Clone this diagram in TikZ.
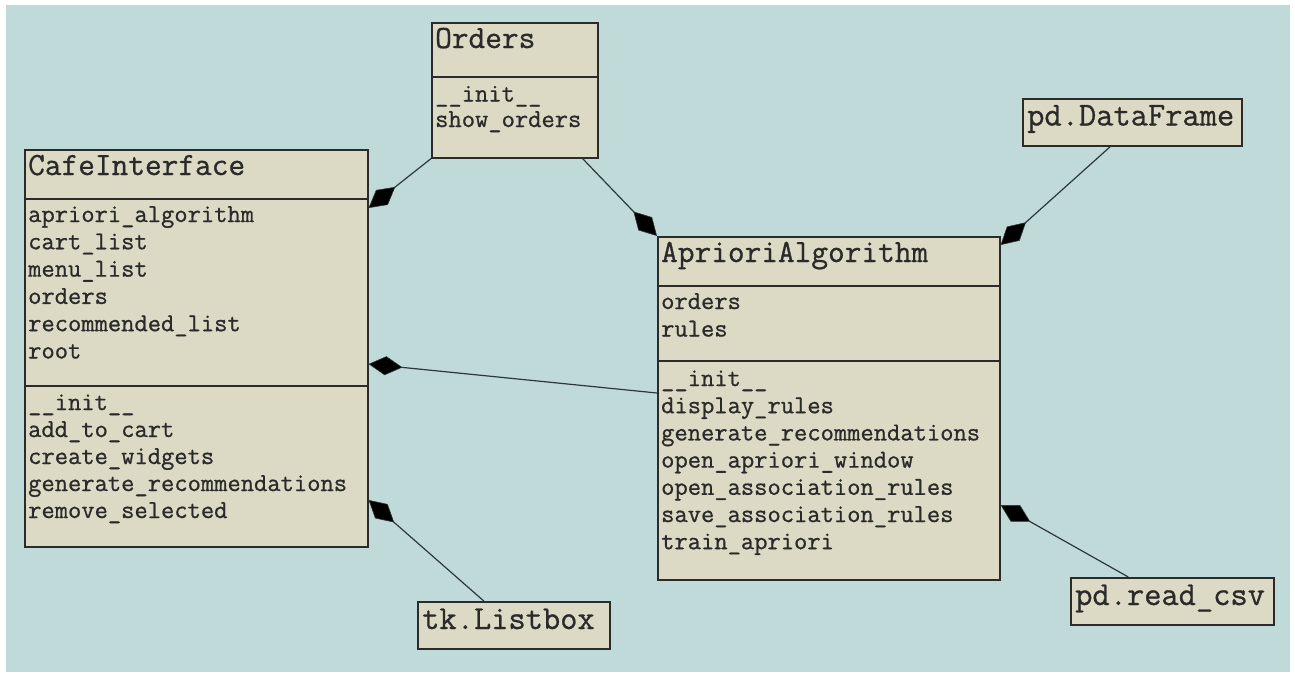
\documentclass[tikz,border=0pt]{standalone}
\usepackage{fontspec}
\usetikzlibrary{arrows.meta}
\newfontfamily\umlmono[FakeBold=0.8]{Latin Modern Mono}
\definecolor{canvas}{HTML}{C0D9D9}
\definecolor{boxfill}{HTML}{DCD9C4}
\definecolor{boxline}{HTML}{2B2B2B}
\definecolor{ink}{HTML}{2A2A2A}
\definecolor{wire}{HTML}{2E3838}

\begin{document}
\begin{tikzpicture}[x=1pt,y=-1pt,
  umlbox/.style={draw=boxline, fill=boxfill, line width=1.6pt, inner sep=0pt,
                 anchor=north west},
  sepline/.style={draw=boxline, line width=1.6pt},
  member/.style={anchor=base west, inner sep=0pt, text=ink,
                 font=\umlmono\fontsize{25.8}{30}\selectfont},
  heading/.style={anchor=base west, inner sep=0pt, text=ink,
                  font=\umlmono\fontsize{32.4}{36}\selectfont},
  plain/.style={anchor=base west, inner sep=0pt, text=ink,
                font=\umlmono\fontsize{33.5}{37}\selectfont},
  composes/.style={draw=wire, line width=1.2pt,
                   -{Diamond[length=34pt, width=19pt, fill=black, line width=0.6pt]}}]

% page and canvas
\useasboundingbox (0,0) rectangle (1295,673);
\fill[white] (0,0) rectangle (1295,673);
\fill[canvas] (6,5) rectangle (1290,672);

% class boxes
\node[umlbox, minimum width=166pt, minimum height=135pt] (orders)  at (431,22)  {};
\node[umlbox, minimum width=343pt, minimum height=397pt] (cafe)    at (24,149)  {};
\node[umlbox, minimum width=342pt, minimum height=343pt] (apriori) at (657,236) {};
\node[umlbox, minimum width=219pt, minimum height=47pt]  (df)      at (1022,98) {};
\node[umlbox, minimum width=192pt, minimum height=47pt]  (listbox) at (417,601) {};
\node[umlbox, minimum width=203pt, minimum height=47pt]  (readcsv) at (1070,577) {};

% compartment separators
\draw[sepline] ([yshift=-55pt]orders.north west) -- ([yshift=-55pt]orders.north east);
\draw[sepline] ([yshift=-50pt]cafe.north west) -- ([yshift=-50pt]cafe.north east);
\draw[sepline] ([yshift=-237pt]cafe.north west) -- ([yshift=-237pt]cafe.north east);
\draw[sepline] ([yshift=-50pt]apriori.north west) -- ([yshift=-50pt]apriori.north east);
\draw[sepline] ([yshift=-125pt]apriori.north west) -- ([yshift=-125pt]apriori.north east);

% Orders
\node[heading] (orders-t)  at (435,48)    {Orders};
\node[member]  (orders-m1) at (435,101.5) {\_\_init\_\_};
\node[member]  (orders-m2) at (435,127)   {show\_orders};

% CafeInterface
\node[heading] (cafe-t)  at (28,175)   {CafeInterface};
\node[member]  (cafe-a1) at (28,222)   {apriori\_algorithm};
\node[member]  (cafe-a2) at (28,249.3) {cart\_list};
\node[member]  (cafe-a3) at (28,276.6) {menu\_list};
\node[member]  (cafe-a4) at (28,303.9) {orders};
\node[member]  (cafe-a5) at (28,331.2) {recommended\_list};
\node[member]  (cafe-a6) at (28,358.5) {root};
\node[member]  (cafe-m1) at (28,410)   {\_\_init\_\_};
\node[member]  (cafe-m2) at (28,437)   {add\_to\_cart};
\node[member]  (cafe-m3) at (28,464)   {create\_widgets};
\node[member]  (cafe-m4) at (28,491)   {generate\_recommendations};
\node[member]  (cafe-m5) at (28,518)   {remove\_selected};

% AprioriAlgorithm
\node[heading] (apr-t)  at (661,262)   {AprioriAlgorithm};
\node[member]  (apr-a1) at (661,309)   {orders};
\node[member]  (apr-a2) at (661,336.5) {rules};
\node[member]  (apr-m1) at (661,386)   {\_\_init\_\_};
\node[member]  (apr-m2) at (661,413.2) {display\_rules};
\node[member]  (apr-m3) at (661,440.4) {generate\_recommendations};
\node[member]  (apr-m4) at (661,467.6) {open\_apriori\_window};
\node[member]  (apr-m5) at (661,494.8) {open\_association\_rules};
\node[member]  (apr-m6) at (661,522)   {save\_association\_rules};
\node[member]  (apr-m7) at (661,549.2) {train\_apriori};

% external types
\node[plain] (df-t)      at (1027,125.5) {pd.DataFrame};
\node[plain] (listbox-t) at (422,629)    {tk.Listbox};
\node[plain] (readcsv-t) at (1075,605)   {pd.read\_csv};

% composition links (diamond on the owning class)
\draw[composes] (orders.south west) -- ([yshift=-59pt]cafe.north east);
\draw[composes] ([xshift=-16pt]orders.south east) -- (apriori.north west);
\draw[composes] ([xshift=-22pt]df.south) -- ([yshift=-9pt]apriori.north east);
\draw[composes] ([yshift=-157pt]apriori.north west) -- ([yshift=-215pt]cafe.north east);
\draw[composes] ([xshift=-30pt]listbox.north) -- ([yshift=-351pt]cafe.north east);
\draw[composes] ([xshift=-44pt]readcsv.north) -- ([yshift=-269pt]apriori.north east);
\end{tikzpicture}
\end{document}
